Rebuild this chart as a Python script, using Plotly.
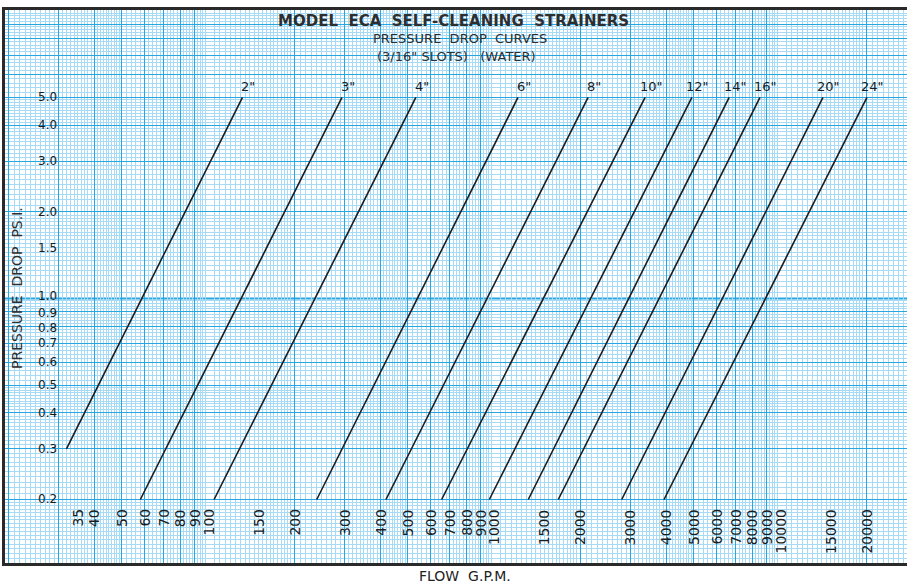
import numpy as np
import plotly.graph_objects as go

# ---- data ----
sizes = ['2"', '3"', '4"', '6"', '8"', '10"', '12"', '14"', '16"', '20"', '24"']
flow_start = [32, 58, 105, 240, 419, 656, 963, 1318, 1678, 2796, 3930]      # GPM at lower end
dp_start = [0.3, 0.2, 0.2, 0.2, 0.2, 0.2, 0.2, 0.2, 0.2, 0.2, 0.2]           # psi at lower end
flow_end = [132, 294, 533, 1213, 2133, 3375, 4920, 6640, 8510, 14130, 20140]  # GPM at upper end
dp_end = [5.0, 5.0, 5.0, 5.0, 5.0, 5.0, 5.0, 5.0, 5.0, 5.0, 5.0]            # psi at upper end

x_tick_labels = ['35', '40', '50', '60', '70', '80', '90', '100', '150', '200', '300', '400',
                 '500', '600', '700', '800', '900', '1000', '1500', '2000', '3000', '4000',
                 '5000', '6000', '7000', '8000', '9000', '10000', '15000', '20000']
y_tick_labels = ['0.2', '0.3', '0.4', '0.5', '0.6', '0.7', '0.8', '0.9', '1.0', '1.5',
                 '2.0', '3.0', '4.0', '5.0']

# ---- layout constants ----
W, H = 907, 583
ML, MR, MT, MB = 5, 0, 10, 20
PW, PH = W - ML - MR, H - MT - MB
X_RANGE = [1.2902, 4.444]
Y_RANGE = [-0.9198, 1.003]
FONT = "DejaVu Sans"
INK = "#1c1c1c"
TXT = "#2e2e2e"
MAJOR = "#27a6e4"
FINE = "#a6daf5"


def px_to_py(py):
    """pixel row inside figure -> paper y"""
    return (PH - (py - MT)) / PH


def px_to_px(px):
    return (px - ML) / PW


# graph-paper grid values (log paper)
def paper_lines(lo, hi):
    major, fine, decade = [], [], []
    for k in range(int(np.floor(lo)) - 1, int(np.ceil(hi)) + 1):
        base = 10.0 ** k
        decade.append(base)
        for m in range(2, 10):
            major.append(m * base)
        for m in np.arange(1.05, 2.0, 0.05):
            fine.append(round(m, 2) * base)
        for m in np.arange(2.1, 5.0, 0.1):
            if abs(m - round(m)) > 1e-6:
                fine.append(round(m, 2) * base)
        for m in np.arange(5.2, 10.0, 0.2):
            if abs(m - round(m)) > 1e-6:
                fine.append(round(m, 2) * base)
    f = lambda v: [x for x in v if lo <= np.log10(x) <= hi]
    return f(major), f(fine), f(decade)


xmaj, xfine, xdec = paper_lines(*X_RANGE)
ymaj, yfine, ydec = paper_lines(*Y_RANGE)

fig = go.Figure()

for i, s in enumerate(sizes):
    fig.add_trace(go.Scatter(
        x=[flow_start[i], flow_end[i]], y=[dp_start[i], dp_end[i]],
        mode="lines", line=dict(color=INK, width=1.6), name=s,
        showlegend=False, hoverinfo="skip"))

annotations = []
# size labels at top of each line
for i, s in enumerate(sizes):
    annotations.append(dict(
        x=np.log10(flow_end[i]), y=np.log10(dp_end[i]), xref="x", yref="y",
        text=s, showarrow=False, xshift=6, yshift=11,
        xanchor="center", yanchor="middle",
        font=dict(family=FONT, size=13, color=INK)))

# x tick labels (rotated, printed on the paper)
for lab in x_tick_labels:
    annotations.append(dict(
        x=np.log10(float(lab)), y=px_to_py(507), xref="x", yref="paper",
        text=lab, textangle=-90, showarrow=False,
        xanchor="center", yanchor="top", font=dict(family=FONT, size=14, color=INK)))

# y tick labels
nudge = {'1.0': 2, '0.9': -1, '0.8': -2}
for lab in y_tick_labels:
    annotations.append(dict(
        x=px_to_px(59), y=np.log10(float(lab)), xref="paper", yref="y",
        text=lab, showarrow=False, xanchor="right", yanchor="middle",
        yshift=nudge.get(lab, 0),
        font=dict(family=FONT, size=12, color=INK)))

# titles
annotations += [
    dict(x=px_to_px(453), y=px_to_py(21), xref="paper", yref="paper",
         text="<b>MODEL  ECA  SELF-CLEANING  STRAINERS</b>", showarrow=False,
         xanchor="center", yanchor="middle",
         font=dict(family=FONT, size=15, color=TXT)),
    dict(x=px_to_px(460), y=px_to_py(38), xref="paper", yref="paper",
         text="PRESSURE  DROP  CURVES", showarrow=False,
         xanchor="center", yanchor="middle",
         font=dict(family=FONT, size=13, color=TXT)),
    dict(x=px_to_px(456), y=px_to_py(57), xref="paper", yref="paper",
         text="(3/16\" SLOTS)   (WATER)", showarrow=False,
         xanchor="center", yanchor="middle",
         font=dict(family=FONT, size=13, color=TXT)),
    dict(x=px_to_px(17), y=px_to_py(288), xref="paper", yref="paper",
         text="PRESSURE  DROP  PS.I.", textangle=-90, showarrow=False,
         xanchor="center", yanchor="middle",
         font=dict(family=FONT, size=14, color=TXT)),
    dict(x=px_to_px(465), y=px_to_py(576), xref="paper", yref="paper",
         text="FLOW  G.P.M.", showarrow=False,
         xanchor="center", yanchor="middle",
         font=dict(family=FONT, size=14, color="#222222")),
]

# heavier decade lines
shapes = []
for v in xdec:
    shapes.append(dict(type="line", xref="x", yref="paper", x0=np.log10(v), x1=np.log10(v),
                       y0=0, y1=1, line=dict(color=MAJOR, width=2), layer="between"))
for v in ydec:
    shapes.append(dict(type="line", xref="paper", yref="y", y0=np.log10(v), y1=np.log10(v),
                       x0=0, x1=1, line=dict(color=MAJOR, width=2), layer="between"))

fig.update_layout(
    width=W, height=H, margin=dict(l=ML, r=MR, t=MT, b=MB),
    paper_bgcolor="white", plot_bgcolor="white",
    annotations=annotations, shapes=shapes,
    xaxis=dict(type="log", range=X_RANGE, tickmode="array", tickvals=xmaj,
               showticklabels=False, ticks="", showgrid=True, gridcolor=MAJOR, gridwidth=1,
               minor=dict(tickmode="array", tickvals=xfine, showgrid=True,
                          gridcolor=FINE, gridwidth=0.6, ticks=""),
               showline=True, linecolor="#2a2a2a", linewidth=3, mirror=True,
               zeroline=False, fixedrange=True),
    yaxis=dict(type="log", range=Y_RANGE, tickmode="array", tickvals=ymaj,
               showticklabels=False, ticks="", showgrid=True, gridcolor=MAJOR, gridwidth=1,
               minor=dict(tickmode="array", tickvals=yfine, showgrid=True,
                          gridcolor=FINE, gridwidth=0.6, ticks=""),
               showline=True, linecolor="#2a2a2a", linewidth=3, mirror=False,
               zeroline=False, fixedrange=True),
    showlegend=False,
)

fig.write_html("out.html", config={"displayModeBar": False},
               post_script="document.body.style.margin='0px';document.body.style.overflow='hidden';")
